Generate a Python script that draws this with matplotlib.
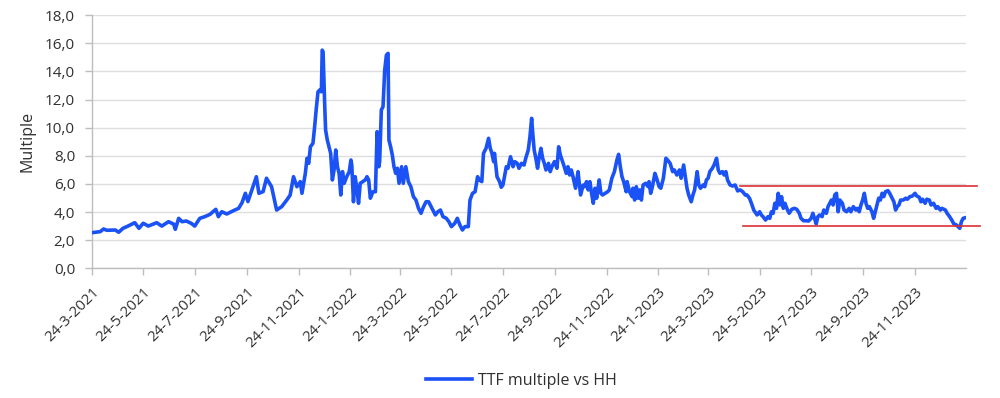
import matplotlib
matplotlib.use("Agg")
import matplotlib.pyplot as plt
from matplotlib.ticker import FuncFormatter, MultipleLocator
import pandas as pd

plt.rcParams['font.family'] = ['Open Sans', 'DejaVu Sans']

# ---------------- data ----------------
START_DATE = "2021-03-24"
END_OFFSET_DAYS = 1035.4  # last day shown on the axis, days after START_DATE

days_since_start = [
    0, 10, 14, 18, 28, 32, 37, 43, 51, 56, 61, 67, 77, 83, 91, 97, 99, 103, 107, 112,
    118, 122, 128, 134, 140, 147, 150, 154, 160, 168, 174, 178, 182, 185, 191, 195, 198, 203, 207, 213,
    219, 225, 231, 235, 239, 243, 247, 249, 253, 255, 257, 259, 262, 264, 266, 268, 270, 272, 273, 274,
    276, 277, 279, 281, 283, 285, 287, 289, 291, 293, 295, 297, 299, 302, 305, 307, 308, 310, 312, 314,
    316, 318, 321, 324, 326, 328, 330, 333, 336, 338, 340, 341, 343, 345, 347, 349, 351, 352, 354, 356,
    358, 360, 362, 364, 367, 369, 372, 375, 378, 381, 384, 387, 390, 393, 396, 399, 401, 404, 407, 410,
    413, 416, 420, 423, 426, 430, 433, 436, 439, 442, 446, 448, 451, 454, 457, 459, 462, 464, 467, 470,
    472, 474, 476, 477, 480, 483, 485, 487, 491, 493, 496, 499, 501, 504, 506, 509, 512, 514, 517, 519,
    521, 522, 524, 526, 528, 530, 532, 534, 536, 538, 541, 543, 545, 548, 551, 553, 555, 557, 559, 562,
    564, 566, 568, 570, 573, 576, 577, 579, 582, 584, 586, 588, 590, 592, 594, 596, 598, 601, 603, 605,
    608, 611, 613, 616, 619, 622, 624, 626, 628, 630, 633, 634, 637, 640, 641, 643, 645, 647, 649, 651,
    653, 656, 659, 660, 662, 664, 667, 669, 672, 674, 677, 680, 682, 685, 688, 690, 693, 696, 698, 701,
    703, 705, 707, 710, 712, 714, 717, 719, 721, 724, 726, 728, 730, 732, 735, 737, 740, 742, 744, 747,
    749, 751, 753, 756, 759, 762, 765, 768, 771, 774, 776, 779, 782, 784, 788, 791, 793, 795, 798, 801,
    803, 805, 807, 809, 811, 813, 815, 817, 819, 821, 824, 826, 829, 832, 835, 838, 840, 843, 846, 849,
    852, 854, 856, 858, 860, 862, 865, 867, 870, 872, 874, 876, 878, 880, 882, 884, 886, 889, 891, 894,
    897, 899, 902, 905, 907, 909, 911, 913, 915, 917, 919, 921, 924, 926, 928, 930, 932, 934, 936, 938,
    940, 943, 945, 947, 950, 952, 954, 956, 958, 961, 964, 966, 969, 972, 975, 977, 980, 982, 984, 987,
    989, 992, 994, 997, 1000, 1002, 1005, 1007, 1011, 1013, 1016, 1019, 1021, 1024, 1026, 1028, 1030, 1032, 1035,
]

ttf_multiple_vs_hh = [
    2.53, 2.60, 2.79, 2.70, 2.72, 2.56, 2.84, 3.00, 3.24, 2.84, 3.20, 3.00, 3.24, 3.00, 3.31, 3.14, 2.77, 3.55, 3.31, 3.36,
    3.19, 3.00, 3.55, 3.67, 3.83, 4.19, 3.67, 4.02, 3.86, 4.10, 4.26, 4.66, 5.33, 4.74, 5.80, 6.51, 5.33, 5.45, 6.40, 5.80,
    4.14, 4.38, 4.85, 5.20, 6.51, 5.80, 6.16, 5.33, 6.75, 7.82, 7.46, 8.64, 8.88, 10.06, 11.37, 12.55, 12.67, 12.55, 15.51, 15.39,
    11.49, 9.83, 9.12, 8.64, 8.17, 6.28, 6.99, 8.41, 7.22, 6.75, 5.21, 6.87, 6.04, 6.51, 6.87, 7.70, 7.34, 4.73, 6.51, 5.69,
    4.62, 6.04, 6.16, 6.28, 6.51, 6.28, 4.98, 5.44, 5.44, 9.71, 7.22, 7.58, 11.25, 11.49, 14.09, 15.16, 15.28, 9.12, 8.64, 8.05,
    7.22, 6.75, 7.11, 6.04, 7.22, 6.04, 7.22, 6.16, 5.80, 5.09, 4.85, 4.26, 3.91, 4.38, 4.73, 4.73, 4.50, 4.14, 3.79, 4.02,
    4.14, 3.67, 3.55, 3.31, 2.96, 3.20, 3.55, 3.08, 2.72, 2.96, 2.96, 4.85, 5.33, 5.44, 6.51, 6.28, 6.16, 8.17, 8.53, 9.24,
    8.53, 8.17, 7.58, 8.17, 6.51, 6.16, 5.76, 5.92, 7.22, 7.11, 7.93, 7.22, 7.58, 7.46, 7.11, 7.46, 7.34, 7.82, 8.41, 9.35,
    10.66, 9.83, 8.41, 7.82, 7.11, 7.93, 8.53, 7.82, 7.46, 6.99, 7.46, 6.87, 7.22, 7.58, 7.11, 8.64, 8.05, 7.70, 7.34, 6.75,
    7.22, 6.63, 6.99, 6.51, 5.69, 6.87, 6.28, 5.21, 5.92, 5.80, 6.16, 5.57, 6.16, 5.33, 4.62, 5.69, 4.98, 6.28, 5.33, 5.21,
    5.33, 5.44, 5.57, 6.40, 6.87, 7.70, 8.10, 7.22, 6.51, 6.16, 5.44, 6.16, 5.44, 5.09, 5.69, 4.85, 5.80, 4.98, 5.57, 4.85,
    5.92, 6.04, 5.80, 6.16, 5.33, 5.80, 6.75, 6.40, 5.80, 5.69, 6.40, 7.82, 7.70, 7.46, 6.87, 6.99, 6.63, 6.99, 6.40, 7.34,
    6.51, 5.69, 5.21, 4.73, 5.21, 5.57, 6.87, 5.92, 5.69, 5.92, 5.80, 6.28, 6.40, 6.87, 7.11, 7.34, 7.82, 6.99, 6.75, 6.87,
    6.63, 6.87, 6.28, 5.92, 5.85, 5.92, 5.50, 5.57, 5.44, 5.21, 5.21, 4.98, 4.50, 4.14, 3.79, 4.02, 3.79, 3.67, 3.43, 3.67,
    3.55, 4.02, 3.91, 4.62, 4.26, 5.33, 4.50, 5.09, 4.26, 4.62, 4.14, 3.91, 4.19, 4.26, 4.19, 3.91, 3.55, 3.38, 3.38, 3.36,
    3.55, 3.91, 3.55, 3.15, 3.67, 3.79, 3.67, 4.14, 3.91, 4.38, 4.62, 4.85, 4.50, 5.21, 5.33, 4.02, 4.85, 4.62, 4.14, 4.02,
    4.26, 4.02, 4.38, 4.14, 4.26, 4.02, 4.50, 4.85, 5.33, 4.62, 4.26, 4.38, 4.02, 3.55, 4.02, 4.50, 4.98, 4.85, 5.33, 5.09,
    5.44, 5.52, 5.33, 5.09, 4.73, 4.14, 4.38, 4.50, 4.85, 4.85, 4.98, 4.91, 5.09, 5.14, 5.33, 5.14, 5.05, 4.73, 4.91, 4.62,
    4.91, 4.85, 4.50, 4.62, 4.26, 4.38, 4.14, 4.26, 4.14, 3.91, 3.67, 3.38, 3.15, 3.08, 2.96, 2.84, 3.31, 3.55, 3.60,
]

# range band (red horizontal lines): level, start offset, end offset (days)
band_upper_level = 5.83
band_upper_days = [768, 1049]
band_lower_level = 3.0
band_lower_days = [771, 1052]

tick_labels = [
    "24-3-2021", "24-5-2021", "24-7-2021", "24-9-2021", "24-11-2021",
    "24-1-2022", "24-3-2022", "24-5-2022", "24-7-2022", "24-9-2022", "24-11-2022",
    "24-1-2023", "24-3-2023", "24-5-2023", "24-7-2023", "24-9-2023", "24-11-2023",
]

series_label = "TTF multiple vs HH"
y_label = "Multiple"

# ---------------- plot ----------------
start = pd.Timestamp(START_DATE)
dates = start + pd.to_timedelta(days_since_start, unit="D")
tick_dates = pd.to_datetime(tick_labels, format="%d-%m-%Y")

TEXT = "#303030"
BLUE = "#1A52F5"
RED = "#DC2F33"
GRID = "#DEDEDE"
AXIS = "#BDBDBD"

fig = plt.figure(figsize=(10, 3.98), dpi=100)
ax = fig.add_axes([0.0917, 0.326, 0.966 - 0.0917, 0.962 - 0.326])

ax.plot(dates, ttf_multiple_vs_hh, color=BLUE, lw=2.6, solid_joinstyle="round",
        label=series_label, zorder=3)

for level, span in ((band_upper_level, band_upper_days), (band_lower_level, band_lower_days)):
    xs = start + pd.to_timedelta(span, unit="D")
    ax.plot(xs, [level, level], color=RED, lw=1.2, clip_on=False, zorder=4)

ax.set_xlim(start, start + pd.Timedelta(days=END_OFFSET_DAYS))
ax.set_ylim(0, 18)
ax.yaxis.set_major_locator(MultipleLocator(2))
ax.yaxis.set_major_formatter(FuncFormatter(lambda v, p: f"{v:.1f}".replace(".", ",")))

ax.set_xticks(tick_dates)
ax.set_xticklabels(tick_labels, rotation=45, ha="right", rotation_mode="anchor")

ax.grid(axis="y", color=GRID, lw=1.0, zorder=0)
ax.set_axisbelow(True)
for s in ("top", "right"):
    ax.spines[s].set_visible(False)
for s in ("left", "bottom"):
    ax.spines[s].set_color(AXIS)
    ax.spines[s].set_linewidth(1.0)

ax.tick_params(axis="both", colors=AXIS, length=5, width=1.0, labelcolor=TEXT)
ax.tick_params(axis="y", pad=7, labelsize=11)
ax.tick_params(axis="x", pad=7, labelsize=10.8)

ax.set_ylabel(y_label, fontsize=11.5, color=TEXT)
ax.yaxis.set_label_coords(-0.064, 0.5)

fig.legend(loc="center", bbox_to_anchor=(0.5215, 0.043), frameon=False,
           fontsize=11.5, handlelength=2.9, handletextpad=0.35, labelcolor=TEXT)

fig.savefig("out.png", dpi=100, facecolor="white")
